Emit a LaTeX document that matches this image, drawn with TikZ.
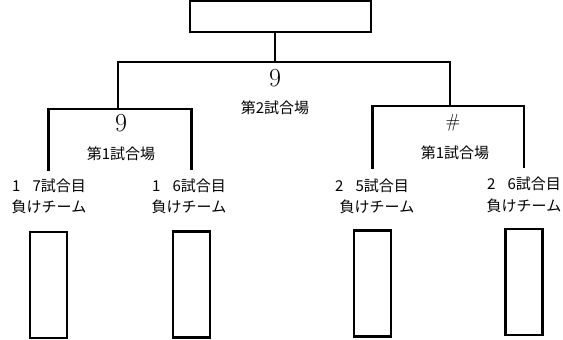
\documentclass[tikz,border=0pt]{standalone}
\usepackage{fontspec}
\newfontfamily\jpfont{Noto Sans CJK JP}
\usetikzlibrary{positioning}

\begin{document}
\begin{tikzpicture}[x=1pt, y=-1pt,
	bline/.style={line width=2.4pt},
	losebox/.style={draw, line width=2.4pt, minimum width=37pt, minimum height=106pt, inner sep=0pt},
	jtext/.style={font=\jpfont\fontsize{15}{17}\selectfont, inner sep=0pt},
	bignum/.style={font=\fontsize{26}{28}\selectfont, inner sep=0pt}]

\useasboundingbox (0,0) rectangle (563,340);

	\node[draw, line width=2.4pt, minimum width=181pt, minimum height=31pt, inner sep=0pt] (final) at(280.5,16.5) {};

	\coordinate (top) at(275,62);
	\coordinate (semiL) at(118,109);
	\coordinate (semiR) at(450,106);

	\node[bignum] (numtop) at(275,78) {9};
	\node[jtext] (venue2) at(275,108) {第2試合場};
	\node[bignum] (numL) at(121,123) {9};
	\node[jtext] (venueL) at(121,154) {第1試合場};
	\node[bignum, font=\fontsize{19}{21}\selectfont] (numR) at(453,123) {\#};
	\node[jtext] (venueR) at(455,153) {第1試合場};

	\node[jtext] (m17) at(49,186) {1\hspace{0.8em}7試合目};
	\node[jtext] (m16) at(189,186) {1\hspace{0.8em}6試合目};
	\node[jtext] (m25) at(372,186) {2\hspace{0.8em}5試合目};
	\node[jtext] (m26) at(524,184) {2\hspace{0.8em}6試合目};

	\node[jtext] (lose17) at(49,207) {負けチーム};
	\node[jtext] (lose16) at(189,207) {負けチーム};
	\node[jtext] (lose25) at(377,207) {負けチーム};
	\node[jtext] (lose26) at(524,206) {負けチーム};

	\node[losebox] (box17) at(48.5,285) {};
	\node[losebox] (box16) at(191.5,284.5) {};
	\node[losebox] (box25) at(372.5,283.5) {};
	\node[losebox] (box26) at(524,282) {};

\draw[bline] (top) -- (top |- final.south);
\draw[bline] (semiL) |- (top) -| (semiR);
\draw[bline] ([yshift=8pt]m17.north -| box17) |- (semiL) -| ([yshift=9pt]m16.north -| box16);
\draw[bline] ([yshift=10pt]m25.north -| box25) |- (semiR) -| ([yshift=9pt]m26.north -| box26);
\end{tikzpicture}
\end{document}
